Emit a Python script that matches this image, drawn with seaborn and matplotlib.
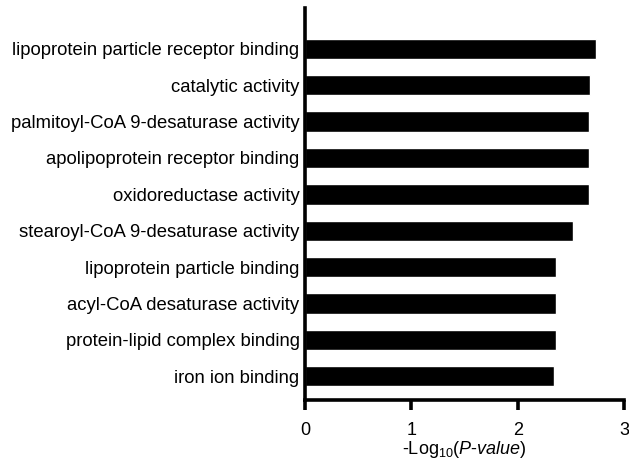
import matplotlib
matplotlib.use("Agg")
import matplotlib.pyplot as plt
import seaborn as sns
import pandas as pd

terms = [
    "lipoprotein particle receptor binding",
    "catalytic activity",
    "palmitoyl-CoA 9-desaturase activity",
    "apolipoprotein receptor binding",
    "oxidoreductase activity",
    "stearoyl-CoA 9-desaturase activity",
    "lipoprotein particle binding",
    "acyl-CoA desaturase activity",
    "protein-lipid complex binding",
    "iron ion binding",
]
neg_log_p = [2.74, 2.68, 2.67, 2.67, 2.67, 2.52, 2.36, 2.36, 2.36, 2.34]
xticks = [0, 1, 2, 3]

df = pd.DataFrame({"term": terms, "value": neg_log_p})

sns.set_style("ticks")
plt.rcParams["font.family"] = ["Liberation Sans", "DejaVu Sans"]
plt.rcParams["mathtext.fontset"] = "custom"
plt.rcParams["mathtext.rm"] = "Liberation Sans"
plt.rcParams["mathtext.it"] = "Liberation Sans:italic"
plt.rcParams["text.color"] = "black"
plt.rcParams["axes.labelcolor"] = "black"
plt.rcParams["xtick.color"] = "black"
plt.rcParams["ytick.color"] = "black"
plt.rcParams["axes.edgecolor"] = "black"

fig = plt.figure(figsize=(6.29, 4.62), dpi=100)
ax = fig.add_axes([0.485, 0.134, 0.507, 0.849])

sns.barplot(data=df, x="value", y="term", color="black", width=0.56,
            saturation=1, ax=ax, orient="h")

ax.set_xlim(0, 3)
ax.set_ylim(9.66, -1.13)
ax.set_xticks(xticks)
ax.set_xticklabels([str(t) for t in xticks])
ax.set_ylabel("")
ax.set_xlabel(r"-Log$_{10}$($\mathit{P}$-$\mathit{value}$)", fontsize=13, labelpad=0)

sns.despine(ax=ax)
for s in ["left", "bottom"]:
    ax.spines[s].set_linewidth(2.6)
ax.tick_params(axis="x", length=7, width=2.6, labelsize=13, pad=9)
ax.tick_params(axis="y", length=0, labelsize=13.3, pad=4)

fig.savefig("out.png", dpi=100)
